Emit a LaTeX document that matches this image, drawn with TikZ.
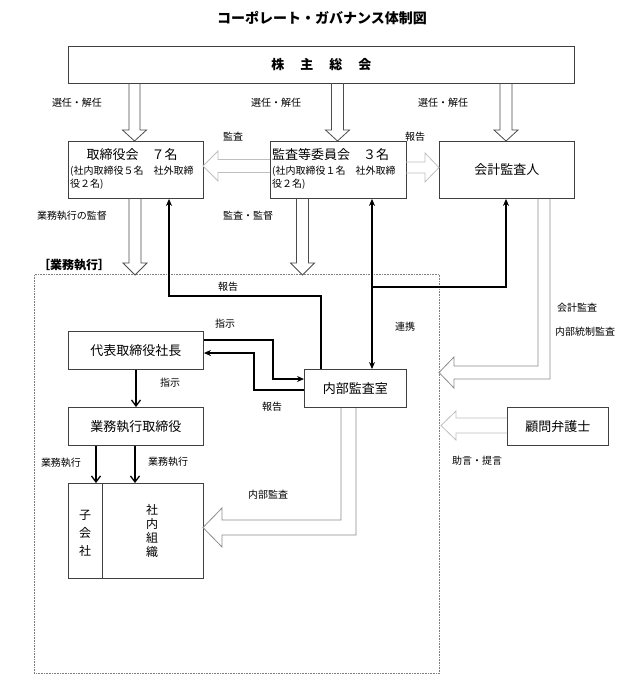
\documentclass[tikz,border=0pt]{standalone}
\usepackage{fontspec}
\setmainfont{Noto Sans CJK JP}
\usetikzlibrary{arrows.meta}
\newcommand\HDown[7]{% style, x, ytop, yhead, ytip, shaft half, head half
  \draw[#1] (#2-#6,#3) -- (#2-#6,#4) -- (#2-#7,#4) -- (#2,#5) -- (#2+#7,#4) -- (#2+#6,#4) -- (#2+#6,#3);}
\newcommand\HHoriz[7]{% style, y, xstart, xhead, xtip, shaft half, head half
  \draw[#1] (#3,#2-#6) -- (#4,#2-#6) -- (#4,#2-#7) -- (#5,#2) -- (#4,#2+#7) -- (#4,#2+#6) -- (#3,#2+#6);}
\begin{document}
\begin{tikzpicture}[x=1pt,y=-1pt,
  box/.style={draw=black!75, line width=0.9pt, inner sep=0pt, anchor=north west},
  lbl/.style={inner sep=0pt, font=\fontsize{10}{12}\selectfont},
  btext/.style={inner sep=0pt, font=\fontsize{13}{15}\selectfont},
  conn/.style={line width=1.3pt, black},
  tipf/.style={-{Stealth[length=7pt,width=6pt]}},
  tipo/.style={-{Straight Barb[length=6pt,width=9pt]}},
  hdark/.style={draw=black!70, line width=0.8pt},
  hlight/.style={draw=black!25, line width=0.8pt},
  hmid/.style={draw=black!45, line width=0.8pt}]
\useasboundingbox (0,0) rectangle (643,694);
\fill[white] (0,0) rectangle (643,694);

% title
\node[inner sep=0pt, font=\fontsize{14}{16}\selectfont\bfseries] (title) at (322,18) {コーポレート・ガバナンス体制図};

% frame
\node[draw=black!50, densely dotted, line width=0.6pt, minimum width=405pt, minimum height=399pt, anchor=north west, inner sep=0pt] (frame) at (34,274) {};
\node[inner sep=0pt, font=\fontsize{12}{14}\selectfont\bfseries] (frlbl) at (74,265) {［業務執行］};

% boxes
\node[box, minimum width=506pt, minimum height=37pt] (sh) at (68,46) {};
\node[inner sep=0pt, font=\fontsize{13}{15}\selectfont\bfseries] (shtxt) at (sh.center) {株\hspace{16pt}主\hspace{16pt}総\hspace{16pt}会};

\node[box, minimum width=135pt, minimum height=57pt] (tor) at (68,141) {};
\node[btext] (tor1) at (132,155) {取締役会　７名};
\node[lbl, anchor=west] (tor2) at (70,171) {(社内取締役５名　社外取締};
\node[lbl, anchor=west] (tor3) at (70,184) {役２名)};

\node[box, minimum width=136pt, minimum height=57pt] (kan) at (270,141) {};
\node[btext, anchor=west] (kan1) at (272,155) {監査等委員会　３名};
\node[lbl, anchor=west] (kan2) at (272,171) {(社内取締役１名　社外取締};
\node[lbl, anchor=west] (kan3) at (272,184) {役２名)};

\node[box, minimum width=135pt, minimum height=57pt] (kai) at (439,141) {};
\node[btext] (kaitxt) at (kai.center) {会計監査人};

\node[box, minimum width=135pt, minimum height=38pt] (pres) at (68,331) {};
\node[btext] (prestxt) at (pres.center) {代表取締役社長};

\node[box, minimum width=102pt, minimum height=38pt] (naibu) at (304,369) {};
\node[btext] (naibutxt) at (naibu.center) {内部監査室};

\node[box, minimum width=135pt, minimum height=38pt] (gyo) at (68,407) {};
\node[btext] (gyotxt) at (gyo.center) {業務執行取締役};

\node[box, minimum width=101pt, minimum height=38pt] (komon) at (507,407) {};
\node[btext] (komontxt) at (komon.center) {顧問弁護士};

\node[box, minimum width=34pt, minimum height=95pt] (ko) at (68,483) {};
\node[box, minimum width=101pt, minimum height=95pt] (sha) at (102,483) {};
\node[inner sep=0pt, font=\fontsize{12}{18}\selectfont, align=center] (kotxt) at (85,533) {子\\会\\社};
\node[inner sep=0pt, font=\fontsize{12}{14}\selectfont, align=center] (shatxt) at (152,531) {社\\内\\組\\織};

% hollow arrows from shareholders
\HDown{hdark}{134.5}{83}{130}{141}{5.5}{12}
\HDown{hdark}{337.5}{83}{130}{141}{6}{12}
\HDown{hdark}{506}{83}{130}{141}{6}{12}
% board / committee down into frame
\HDown{hdark}{135}{198}{263}{275}{6}{12}
\HDown{hdark}{302.5}{198}{263}{275}{6}{12}
% committee -> board, committee -> auditor
\HHoriz{hlight}{166}{270}{218}{203}{6.5}{15}
\HHoriz{hlight}{167.5}{406}{425}{439}{5.5}{14.5}
% advisor -> frame
\HHoriz{hlight}{425.5}{507}{456}{441}{7.5}{14.5}
% auditor -> frame (L shape)
\draw[hmid] (538,0 |- kai.south) -- (538,366) -- (454,366) -- (454,357) -- (439,372.5) -- (454,388) -- (454,379) -- (550,379) -- (550,0 |- kai.south);
% internal audit -> organisation (L shape)
\draw[hmid] (341,0 |- naibu.south) -- (341,520) -- (222,520) -- (222,508) -- (203,527.5) -- (222,547) -- (222,535) -- (356,535) -- (356,0 |- naibu.south);

% black connectors
\draw[conn, tipf] (321,0 |- naibu.north) |- (169,296) -- (169,0 |- tor.south);
\draw[conn, {Stealth[length=7pt,width=6pt]}-{Stealth[length=7pt,width=6pt]}] (372,0 |- kan.south) -- (372,0 |- naibu.north);
\coordinate (jn) at (372,287);
\draw[conn, tipf] (jn) -| (506,0 |- kai.south);
\draw[conn, tipf] (pres.east |- 0,340) -| (273,379) -- (naibu.west |- 0,379);
\draw[conn, tipf] (naibu.west |- 0,390) -| (254,353) -- (pres.east |- 0,353);
\draw[conn, tipo] (136,0 |- pres.south) -- (136,0 |- gyo.north);
\draw[conn, tipo] (96,0 |- gyo.south) -- (96,0 |- ko.north);
\draw[conn, tipo] (135,0 |- gyo.south) -- (135,0 |- sha.north);

% labels
\node[lbl] (l1) at (77,103) {選任・解任};
\node[lbl] (l2) at (276,103) {選任・解任};
\node[lbl] (l3) at (443,103) {選任・解任};
\node[lbl] (l4) at (233,137) {監査};
\node[lbl] (l5) at (415,137) {報告};
\node[lbl] (l6) at (72,216) {業務執行の監督};
\node[lbl] (l7) at (248,216) {監査・監督};
\node[lbl] (l8) at (228,287) {報告};
\node[lbl] (l9) at (405,327) {連携};
\node[lbl] (l10) at (225,324) {指示};
\node[lbl] (l11) at (272,407) {報告};
\node[lbl] (l12) at (170,383) {指示};
\node[lbl] (l13) at (61,463) {業務執行};
\node[lbl] (l14) at (168,462) {業務執行};
\node[lbl] (l15) at (268,495) {内部監査};
\node[lbl] (l16) at (577,308) {会計監査};
\node[lbl] (l17) at (585,332) {内部統制監査};
\node[lbl] (l18) at (477,461) {助言・提言};
\end{tikzpicture}
\end{document}
